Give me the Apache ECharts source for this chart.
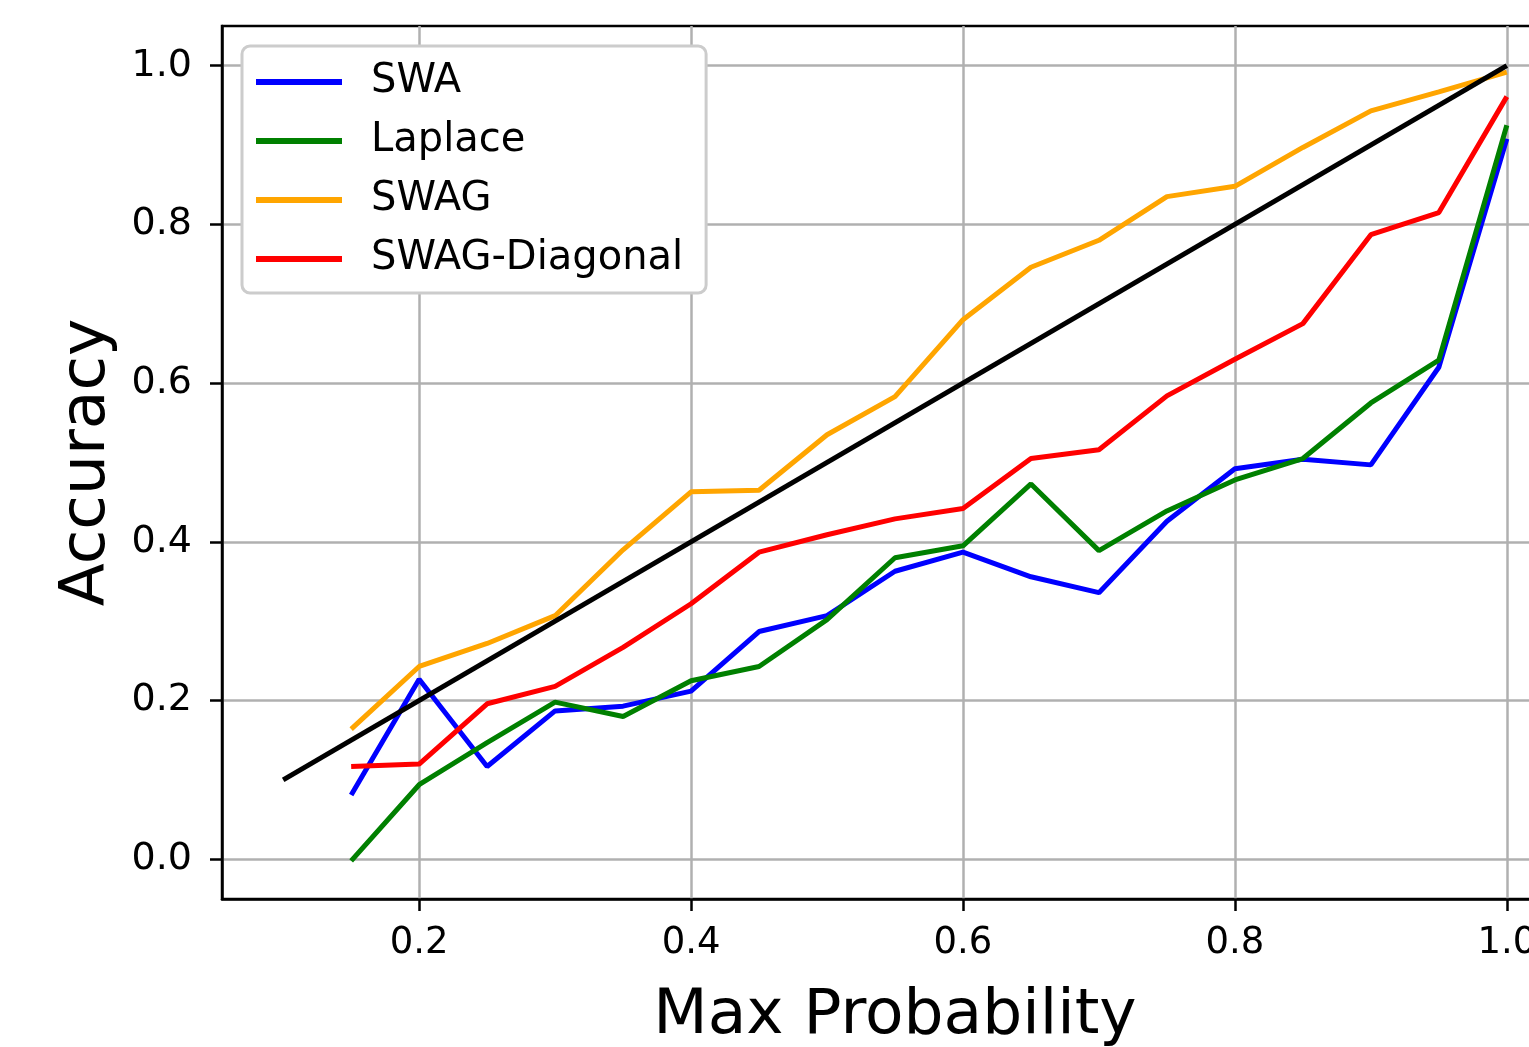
<!DOCTYPE html>
<html>
<head>
<meta charset="utf-8">
<script src="https://cdn.jsdelivr.net/npm/echarts@6/dist/echarts.min.js"></script>
<style>
html,body{margin:0;padding:0;background:#fff;}
#chart{width:1529px;height:1047px;}
</style>
</head>
<body>
<div id="chart"></div>
<script>
var maxProb = [0.15,0.2,0.25,0.3,0.35,0.4,0.45,0.5,0.55,0.6,0.65,0.7,0.75,0.8,0.85,0.9,0.95,1.0];
var swa = [0.081,0.227,0.117,0.187,0.193,0.212,0.287,0.307,0.363,0.387,0.356,0.336,0.426,0.492,0.504,0.497,0.620,0.908];
var laplace = [-0.002,0.094,0.147,0.198,0.180,0.225,0.243,0.302,0.380,0.395,0.473,0.389,0.439,0.478,0.505,0.575,0.629,0.925];
var swag = [0.164,0.243,0.272,0.307,0.390,0.463,0.465,0.535,0.583,0.680,0.746,0.780,0.835,0.848,0.897,0.943,0.967,0.992];
var swagDiag = [0.117,0.120,0.196,0.218,0.267,0.322,0.387,0.409,0.429,0.442,0.505,0.516,0.584,0.630,0.675,0.787,0.815,0.961];
var idealX = [0.1,1.0];
var idealY = [0.1,1.0];
var xTicks = [0.2,0.4,0.6,0.8,1.0];
var yTicks = [0.0,0.2,0.4,0.6,0.8,1.0];

function pairs(xs, ys){ return xs.map(function(x,i){ return [x, ys[i]]; }); }
var FONT = 'DejaVu Sans';
function lineSeries(name, ys, color){
  return {name:name, type:'line', data:pairs(maxProb, ys), symbol:'none', showSymbol:false,
    lineStyle:{color:color, width:5}, itemStyle:{color:color}, animation:false, z:3};
}
var chart = echarts.init(document.getElementById('chart'), null, {renderer:'canvas'});
chart.setOption({
  backgroundColor:'#ffffff',
  animation:false,
  grid:{left:222, top:26, right:-39, bottom:148, containLabel:false, outerBoundsMode:'none',
    show:true, borderColor:'#000', borderWidth:2.5, backgroundColor:'transparent'},
  xAxis:{type:'value', min:0.055, max:1.045,
    name:'Max Probability', nameLocation:'middle', nameGap:86,
    nameTextStyle:{fontSize:63, fontFamily:FONT, color:'#000'},
    axisLine:{show:true, onZero:false, lineStyle:{color:'#000', width:2.5}},
    axisTick:{show:true, length:12, lineStyle:{color:'#000', width:2.5}, customValues:xTicks},
    axisLabel:{fontSize:37, fontFamily:FONT, color:'#000', margin:26, customValues:xTicks,
      hideOverlap:false, formatter:function(v){return v.toFixed(1);}},
    splitLine:{show:true, lineStyle:{color:'#b0b0b0', width:2.5}}
  },
  yAxis:{type:'value', min:-0.05, max:1.05,
    name:'Accuracy', nameLocation:'middle', nameGap:103, nameRotate:90,
    nameTextStyle:{fontSize:63, fontFamily:FONT, color:'#000'},
    axisLine:{show:true, onZero:false, lineStyle:{color:'#000', width:2.5}},
    axisTick:{show:true, length:12, lineStyle:{color:'#000', width:2.5}, customValues:yTicks},
    axisLabel:{fontSize:38, fontFamily:FONT, color:'#000', margin:30, customValues:yTicks,
      formatter:function(v){return v.toFixed(1);}},
    splitLine:{show:true, lineStyle:{color:'#b0b0b0', width:2.5}}
  },
  legend:{orient:'vertical', left:242, top:46, icon:'rect', itemWidth:86, itemHeight:6, itemGap:19,
    padding:[16,23,14,14], borderColor:'#cccccc', borderWidth:3, borderRadius:8, backgroundColor:'#ffffff',
    textStyle:{fontSize:40, fontFamily:FONT, color:'#000', lineHeight:40, padding:[0,0,0,24]},
    data:['SWA','Laplace','SWAG','SWAG-Diagonal']},
  series:[
    lineSeries('SWA', swa, '#0000ff'),
    lineSeries('Laplace', laplace, '#008000'),
    lineSeries('SWAG', swag, '#ffa500'),
    lineSeries('SWAG-Diagonal', swagDiag, '#ff0000'),
    {name:'ideal', type:'line', data:pairs(idealX, idealY), symbol:'none', showSymbol:false,
     lineStyle:{color:'#000', width:5}, itemStyle:{color:'#000'}, animation:false, z:4}
  ]
});
</script>
</body>
</html>
